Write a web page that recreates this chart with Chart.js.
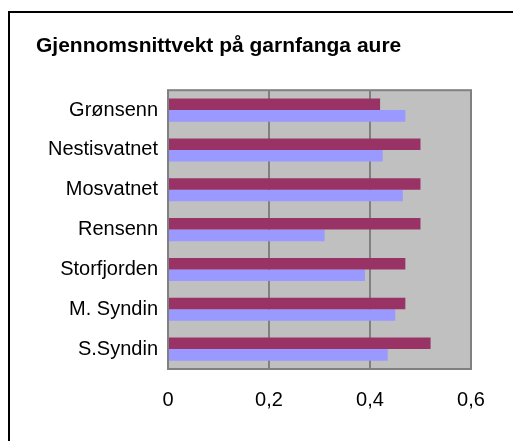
<!DOCTYPE html>
<html>
<head>
<meta charset="utf-8">
<script src="https://cdn.jsdelivr.net/npm/chart.js@4/dist/chart.umd.min.js"></script>
<style>
  html, body { margin: 0; padding: 0; background: #fff; overflow: hidden; }
  canvas { display: block; }
</style>
</head>
<body>
<canvas id="vekt-chart" width="513" height="441"></canvas>
<script>
const lakes = ["Grønsenn", "Nestisvatnet", "Mosvatnet", "Rensenn", "Storfjorden", "M. Syndin", "S.Syndin"]
const seriesA = [0.42, 0.50, 0.50, 0.50, 0.47, 0.47, 0.52]
const seriesB = [0.47, 0.425, 0.465, 0.31, 0.39, 0.45, 0.435]
const xTicks = [0, 0.2, 0.4, 0.6]

const fontFamily = "'Liberation Sans', Arial, sans-serif"

// grey plot area + outer frame
const plotBox = {
  id: 'plotBox',
  beforeDraw(chart) {
    const { ctx, chartArea: a } = chart
    ctx.save()
    ctx.fillStyle = '#C0C0C0'
    ctx.fillRect(a.left, a.top, a.right - a.left, a.bottom - a.top)
    ctx.restore()
  },
  afterDraw(chart) {
    const { ctx, chartArea: a } = chart
    ctx.save()
    ctx.strokeStyle = '#808080'
    ctx.lineWidth = 2
    ctx.strokeRect(a.left, a.top, a.right - a.left, a.bottom - a.top)
    ctx.strokeStyle = '#000'
    ctx.strokeRect(9, 12, 700, 700)
    ctx.restore()
  }
}

const ctx = document.getElementById("vekt-chart").getContext("2d")

new Chart(ctx, {
  type: "bar",
  data: {
    labels: lakes,
    datasets: [
      { data: seriesA, backgroundColor: "#993366" },
      { data: seriesB, backgroundColor: "#9999FF" }
    ]
  },
  options: {
    indexAxis: 'y',
    responsive: false,
    animation: false,
    categoryPercentage: 0.58,
    barPercentage: 1,
    layout: { padding: { left: 36, right: 42, top: 34, bottom: 0 } },
    plugins: {
      legend: { display: false },
      tooltip: { enabled: false },
      title: {
        display: true,
        text: "Gjennomsnittvekt på garnfanga aure",
        align: 'start',
        color: '#000',
        font: { family: fontFamily, size: 21, weight: 'bold' },
        padding: { top: 0, bottom: 31 }
      }
    },
    scales: {
      x: {
        min: 0,
        max: 0.6,
        afterBuildTicks: (scale) => { scale.ticks = xTicks.map(v => ({ value: v })) },
        afterFit: (scale) => { scale.height = 72 },
        ticks: {
          color: '#000',
          padding: 19,
          font: { family: fontFamily, size: 20 },
          callback: (v) => String(v).replace('.', ',')
        },
        grid: { color: '#808080', lineWidth: 2, drawTicks: false },
        border: { display: false }
      },
      y: {
        afterFit: (scale) => { scale.width = 132 },
        ticks: {
          color: '#000',
          padding: 10,
          font: { family: fontFamily, size: 20 }
        },
        grid: { display: false, drawTicks: false },
        border: { display: false }
      }
    }
  },
  plugins: [plotBox]
})
</script>
</body>
</html>
